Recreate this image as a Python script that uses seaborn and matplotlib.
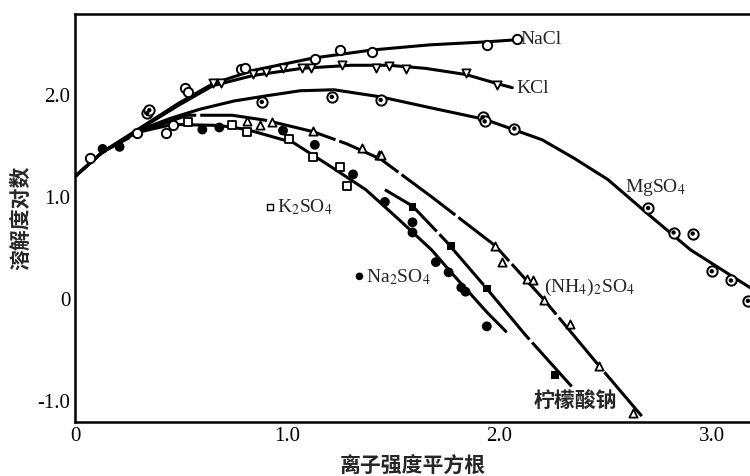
import matplotlib
matplotlib.use('agg')
import matplotlib.pyplot as plt
import seaborn as sns

# fitted curves (x = sqrt ionic strength, y = log solubility)
nacl_x = [0, 0.13, 0.31, 0.49, 0.65, 0.84, 1.12, 1.40, 1.67, 1.94, 2.08]
nacl_y = [1.20, 1.44, 1.68, 1.92, 2.11, 2.24, 2.36, 2.44, 2.49, 2.52, 2.54]
kcl_x = [0, 0.13, 0.31, 0.49, 0.65, 0.84, 1.07, 1.30, 1.48, 1.65, 1.84, 1.99, 2.06]
kcl_y = [1.20, 1.44, 1.67, 1.90, 2.09, 2.19, 2.26, 2.29, 2.29, 2.26, 2.20, 2.11, 2.07]
mgso4_x = [0, 0.13, 0.31, 0.45, 0.59, 0.75, 0.90, 1.06, 1.22, 1.44, 1.66, 1.93, 2.20, 2.35, 2.51, 2.70, 2.90, 3.18]
mgso4_y = [1.20, 1.44, 1.66, 1.77, 1.86, 1.94, 1.99, 2.04, 2.05, 1.98, 1.88, 1.76, 1.56, 1.38, 1.17, 0.83, 0.48, 0.11]
nh4_x = [0, 0.13, 0.31, 0.53, 0.74, 0.90, 1.12, 1.28, 1.44, 1.68, 1.98, 2.21, 2.47, 2.67]
nh4_y = [1.20, 1.44, 1.64, 1.80, 1.80, 1.75, 1.64, 1.52, 1.37, 1.00, 0.52, -0.01, -0.66, -1.15]
na2so4_x = [0, 0.13, 0.29, 0.46, 0.68, 0.81, 1.03, 1.21, 1.37, 1.53, 1.68, 1.78, 1.94, 2.03]
na2so4_y = [1.20, 1.44, 1.63, 1.71, 1.70, 1.66, 1.53, 1.29, 1.07, 0.77, 0.48, 0.24, -0.13, -0.32]
citrate_x = [1.46, 1.59, 1.75, 1.94, 2.12, 2.34]
citrate_y = [1.07, 0.91, 0.56, 0.10, -0.35, -0.86]

# measured points
nacl_px = [0.07, 0.29, 0.43, 0.46, 0.52, 0.53, 0.78, 0.80, 1.13, 1.25, 1.40, 1.94, 2.08]
nacl_py = [1.38, 1.63, 1.63, 1.70, 2.07, 2.03, 2.25, 2.26, 2.35, 2.44, 2.42, 2.49, 2.55]
kcl_px = [0.65, 0.69, 0.84, 0.90, 0.98, 1.07, 1.11, 1.26, 1.42, 1.48, 1.56, 1.84, 1.99]
kcl_py = [2.12, 2.12, 2.20, 2.22, 2.26, 2.26, 2.26, 2.29, 2.26, 2.28, 2.25, 2.21, 2.10]
mgso4_px = [0.34, 0.35, 0.88, 1.21, 1.44, 1.92, 1.93, 2.07, 2.70, 2.82, 2.91, 3.00, 3.09, 3.17]
mgso4_py = [1.82, 1.85, 1.93, 1.98, 1.95, 1.78, 1.74, 1.67, 0.89, 0.65, 0.64, 0.27, 0.18, -0.02]
nh4_px = [0.81, 0.87, 0.93, 1.12, 1.35, 1.43, 1.44, 1.98, 2.01, 2.13, 2.16, 2.21, 2.33, 2.47, 2.63]
nh4_py = [1.74, 1.70, 1.73, 1.65, 1.48, 1.41, 1.41, 0.52, 0.36, 0.19, 0.18, -0.01, -0.25, -0.66, -1.12]
na2so4_px = [0.13, 0.21, 0.60, 0.68, 0.98, 1.13, 1.31, 1.46, 1.59, 1.59, 1.70, 1.76, 1.82, 1.84, 1.94]
na2so4_py = [1.47, 1.49, 1.66, 1.68, 1.65, 1.51, 1.22, 0.95, 0.75, 0.65, 0.36, 0.26, 0.11, 0.07, -0.27]
k2so4_px = [0.53, 0.74, 0.81, 1.01, 1.12, 1.25, 1.28]
k2so4_py = [1.73, 1.70, 1.64, 1.57, 1.39, 1.29, 1.11]
citrate_px = [1.59, 1.77, 1.94, 2.26]
citrate_py = [0.90, 0.52, 0.10, -0.75]

x_ticks = [0, 1, 2, 3]
x_ticklabels = ['0', '1.0', '2.0', '3.0']
y_ticks = [-1, 0, 1, 2]
y_ticklabels = ['-1.0', '0', '1.0', '2.0']

sns.set_theme(style='white')
plt.rcParams['font.family'] = ['Liberation Serif', 'Noto Sans CJK SC']
plt.rcParams['mathtext.fontset'] = 'stix'

fig, ax = plt.subplots(figsize=(7.5, 4.76), dpi=100)
fig.subplots_adjust(left=0.1, right=1.0, bottom=0.113, top=0.97)

solid = '-'
broken = (0, (22, 1.3))
for xs, ys, ls in [(nacl_x, nacl_y, solid), (kcl_x, kcl_y, solid),
                   (mgso4_x, mgso4_y, solid), (nh4_x, nh4_y, broken),
                   (na2so4_x, na2so4_y, solid), (citrate_x, citrate_y, broken)]:
    sns.lineplot(x=xs, y=ys, sort=False, estimator=None, color='black',
                 linewidth=2.2, linestyle=ls, ax=ax)

def pts(xs, ys, **kw):
    sns.scatterplot(x=xs, y=ys, ax=ax, color='black', zorder=5, legend=False, **kw)

pts(nacl_px, nacl_py, marker='o', s=45, facecolor='white', edgecolor='black', linewidth=1.4)
pts(kcl_px, kcl_py, marker='v', s=35, facecolor='white', edgecolor='black', linewidth=1.3)
pts(mgso4_px, mgso4_py, marker='o', s=55, facecolor='white', edgecolor='black', linewidth=1.4)
pts(mgso4_px, mgso4_py, marker='o', s=10, edgecolor='none')
pts(nh4_px, nh4_py, marker='^', s=35, facecolor='white', edgecolor='black', linewidth=1.3)
pts(na2so4_px, na2so4_py, marker='o', s=50, edgecolor='none')
pts(k2so4_px, k2so4_py, marker='s', s=30, facecolor='white', edgecolor='black', linewidth=1.3)
pts(citrate_px, citrate_py, marker='s', s=30, edgecolor='none')

# curve labels
fs = 14
ax.text(2.10, 2.54, 'NaCl', fontsize=fs, va='center')
ax.text(2.08, 2.06, 'KCl', fontsize=fs, va='center')
ax.text(2.59, 1.09, r'MgSO$_4$', fontsize=fs, va='center')
pts([0.92], [0.90], marker='s', s=14, facecolor='white', edgecolor='black', linewidth=1.0)
ax.text(0.95, 0.90, r'K$_2$SO$_4$', fontsize=fs, va='center')
pts([1.34], [0.22], marker='o', s=30, edgecolor='none')
ax.text(1.37, 0.21, r'Na$_2$SO$_4$', fontsize=fs, va='center')
ax.text(2.21, 0.11, r'(NH$_4$)$_2$SO$_4$', fontsize=fs, va='center')
ax.text(2.16, -1.00, '柠檬酸钠', fontsize=15, va='center', family='Noto Sans CJK SC', weight='bold')

ax.set_xlim(0, 3.18)
ax.set_ylim(-1.21, 2.79)
ax.set_xticks(x_ticks)
ax.set_xticklabels(x_ticklabels)
ax.set_yticks(y_ticks)
ax.set_yticklabels(y_ticklabels)
ax.tick_params(direction='in', length=7, width=1.5, labelsize=15, colors='black')
ax.set_xlabel('离子强度平方根', fontsize=15, family='Noto Sans CJK SC', weight='bold', labelpad=7)
ax.set_ylabel('溶解度对数', fontsize=15, family='Noto Sans CJK SC', weight='bold', labelpad=4)
for side in ['left', 'bottom', 'top']:
    ax.spines[side].set_color('black')
    ax.spines[side].set_linewidth(1.8)
ax.spines['right'].set_visible(False)

plt.savefig('out.png', dpi=100)
